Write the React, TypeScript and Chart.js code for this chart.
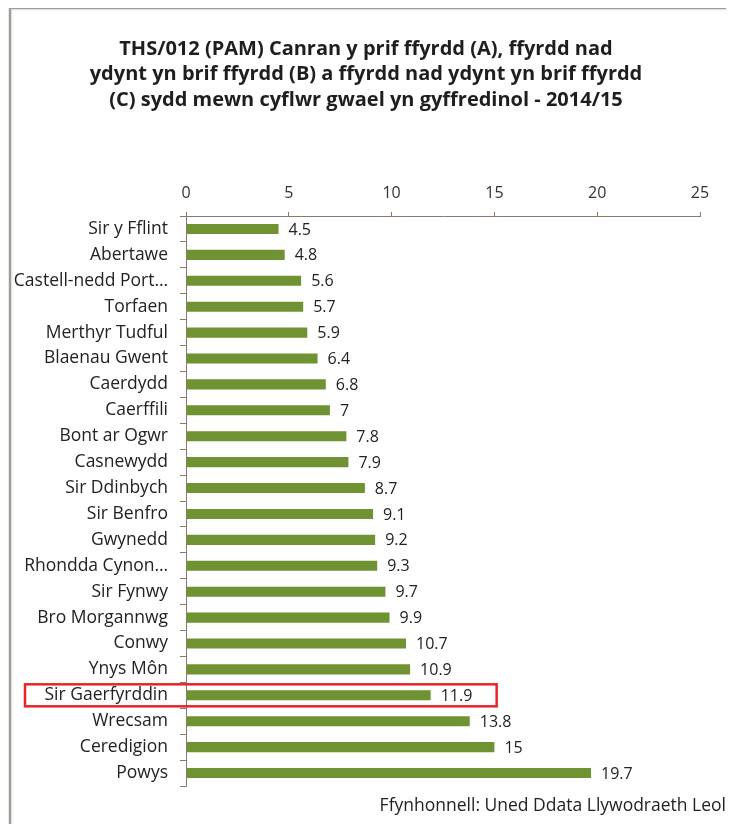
import React, { useEffect, useRef } from "react";
import { Chart, registerables } from "chart.js";

Chart.register(...registerables);

const titleLines = [
  "THS/012 (PAM) Canran y prif ffyrdd (A), ffyrdd nad",
  "ydynt yn brif ffyrdd (B) a ffyrdd nad ydynt yn brif ffyrdd",
  "(C) sydd mewn cyflwr gwael yn gyffredinol - 2014/15",
];
const sourceText = "Ffynhonnell: Uned Ddata Llywodraeth Leol";

const categories = [
  "Sir y Fflint",
  "Abertawe",
  "Castell-nedd Port…",
  "Torfaen",
  "Merthyr Tudful",
  "Blaenau Gwent",
  "Caerdydd",
  "Caerffili",
  "Bont ar Ogwr",
  "Casnewydd",
  "Sir Ddinbych",
  "Sir Benfro",
  "Gwynedd",
  "Rhondda Cynon…",
  "Sir Fynwy",
  "Bro Morgannwg",
  "Conwy",
  "Ynys Môn",
  "Sir Gaerfyrddin",
  "Wrecsam",
  "Ceredigion",
  "Powys",
];
const values = [
  4.5, 4.8, 5.6, 5.7, 5.9, 6.4, 6.8, 7, 7.8, 7.9, 8.7, 9.1, 9.2, 9.3, 9.7, 9.9,
  10.7, 10.9, 11.9, 13.8, 15, 19.7,
];
const highlighted = "Sir Gaerfyrddin";
const axisMin = 0;
const axisMax = 25;
const axisStep = 5;

const FONT = "'Open Sans', Lato, sans-serif";

const overlayPlugin = {
  id: "overlay",
  afterDatasetsDraw(chart: any) {
    const ctx = chart.ctx;
    const meta = chart.getDatasetMeta(0);
    ctx.save();
    ctx.fillStyle = "#222";
    ctx.font = `16px ${FONT}`;
    ctx.textBaseline = "middle";
    ctx.textAlign = "left";
    meta.data.forEach((bar: any, i: number) => {
      ctx.fillText(String(values[i]), bar.x + 10, bar.y + 1);
    });
    const idx = categories.indexOf(highlighted);
    if (idx >= 0) {
      const y = chart.scales.y.getPixelForValue(idx);
      const xr = chart.scales.x.getPixelForValue(values[idx]) + 66;
      ctx.strokeStyle = "#e8242b";
      ctx.lineWidth = 2.5;
      ctx.strokeRect(25, y - 11, xr - 25, 22);
    }
    ctx.restore();
  },
  afterDraw(chart: any) {
    const ctx = chart.ctx;
    ctx.save();
    ctx.fillStyle = "#1e1e1e";
    ctx.font = `bold 20px ${FONT}`;
    ctx.textAlign = "center";
    ctx.textBaseline = "middle";
    titleLines.forEach((t, i) => ctx.fillText(t, 366, 49 + i * 25.5));
    ctx.font = `17.5px ${FONT}`;
    ctx.fillStyle = "#222";
    ctx.textAlign = "right";
    ctx.fillText(sourceText, 726, 806);
    ctx.restore();
  },
};

export default function App() {
  const ref = useRef<HTMLCanvasElement>(null);
  useEffect(() => {
    if (!ref.current) return;
    const chart = new Chart(ref.current, {
      type: "bar",
      data: {
        labels: categories,
        datasets: [
          {
            data: values,
            backgroundColor: "#6f9232",
            borderWidth: 0,
            barPercentage: 0.39,
            categoryPercentage: 1,
          },
        ],
      },
      plugins: [overlayPlugin],
      options: {
        indexAxis: "y",
        animation: false,
        responsive: false,
        devicePixelRatio: 1,
        layout: { padding: { left: 0, right: 34, top: 176, bottom: 46 } },
        plugins: {
          legend: { display: false },
          title: { display: false },
          tooltip: { enabled: false },
        },
        scales: {
          x: {
            position: "top",
            min: axisMin,
            max: axisMax,
            ticks: {
              stepSize: axisStep,
              color: "#333",
              font: { family: FONT, size: 16 },
              padding: 9,
            },
            grid: {
              drawOnChartArea: false,
              drawTicks: true,
              tickLength: 4,
              color: "#8a7a6e",
            },
            border: { display: true, color: "#8a7a6e", width: 1 },
            afterFit(scale: any) {
              scale.height = 40;
            },
          },
          y: {
            ticks: {
              color: "#222",
              font: { family: FONT, size: 17.5 },
              padding: 12,
              autoSkip: false,
            },
            grid: {
              drawOnChartArea: false,
              drawTicks: true,
              tickLength: 6,
              offset: true,
              color: "#8a7a6e",
            },
            border: { display: true, color: "#8a7a6e", width: 1 },
            afterFit(scale: any) {
              scale.width = 186;
            },
          },
        },
      },
    });
    return () => chart.destroy();
  }, []);

  return (
    <div
      style={{
        position: "relative",
        width: 734,
        height: 832,
        margin: -8,
        background: "#e6eed8",
        overflow: "hidden",
      }}
    >
      <div
        style={{
          position: "absolute",
          left: 9,
          top: 7,
          width: 718,
          height: 840,
          background: "#ffffff",
          borderLeft: "2px solid #9c9c9c",
          borderTop: "2px solid #9c9c9c",
          borderRight: "3px solid #b0b0b0",
          boxShadow: "inset 1px 1px 2px rgba(0,0,0,0.15)",
        }}
      />
      <canvas
        ref={ref}
        width={734}
        height={832}
        style={{ position: "absolute", left: 0, top: 0 }}
      />
    </div>
  );
}
